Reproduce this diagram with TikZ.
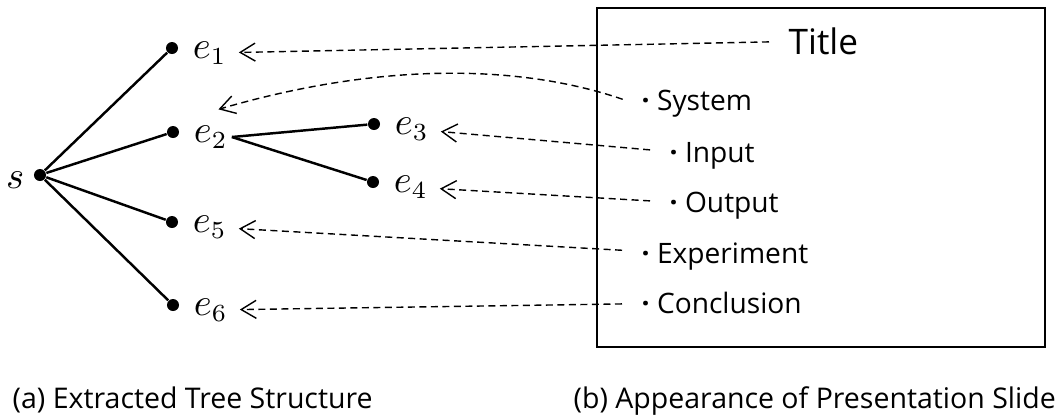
\documentclass[tikz,border=0pt]{standalone}
\usepackage[no-math]{fontspec}
\setmainfont{Open Sans}
\usetikzlibrary{arrows.meta, positioning}
\tikzset{
  vertex/.style={
    circle, fill=black, inner sep=0pt, minimum size=1.2mm
  },
  elabel/.style={
    inner sep=1pt, yshift=-0.5mm, font=\fontsize{10.5}{12}\selectfont
  },
  branch/.style={line width=0.7pt},
  ref/.style={
    -{Straight Barb[length=1.5mm,width=1.8mm]},
    dash pattern=on 0.7mm off 0.45mm, line width=0.4pt,
    shorten <=1.2mm, shorten >=0.8mm
  },
  entry/.style={
    anchor=base west, inner sep=2pt, font=\fontsize{8}{10}\selectfont
  },
  slide/.style={
    draw, line width=0.6pt, inner sep=0pt,
    minimum width=4.48cm, minimum height=3.39cm
  },
  subcap/.style={
    anchor=base west, inner sep=0pt, font=\fontsize{8.1}{10}\selectfont
  }
}
\begin{document}
\begin{tikzpicture}[x=0.01cm, y=-0.01cm]
  \useasboundingbox (0,0) rectangle (1063,417);

  % tree
  \node[vertex] (s) at (40,175) {};
  \node[vertex] (d1) at (172,48) {};
  \node[vertex] (d2) at (173,132) {};
  \node[vertex] (d3) at (374,124) {};
  \node[vertex] (d4) at (373,182) {};
  \node[vertex] (d5) at (172,222) {};
  \node[vertex] (d6) at (173,305) {};

  \node[elabel, left=0.05cm of s] (ls) {$s$};
  \node[elabel, right=0.1cm of d1] (l1) {$e_1$};
  \node[elabel, right=0.1cm of d2] (l2) {$e_2$};
  \node[elabel, right=0.1cm of d3] (l3) {$e_3$};
  \node[elabel, right=0.1cm of d4] (l4) {$e_4$};
  \node[elabel, right=0.1cm of d5] (l5) {$e_5$};
  \node[elabel, right=0.1cm of d6] (l6) {$e_6$};

  \draw[branch] (s) -- (d1);
  \draw[branch] (s) -- (d2);
  \draw[branch] (s) -- (d5);
  \draw[branch] (s) -- (d6);
  \draw[branch] (l2.east) -- (d3);
  \draw[branch] (l2.east) -- (d4);

  % slide
  \node[slide] (box) at (821,177.5) {};
  \node[entry, font=\fontsize{10}{12}\selectfont] (tTitle) at (781,54) {Title};
  \node[entry] (tSys) at (634,110) {{\bfseries·} System};
  \node[entry] (tIn) at (662,162) {{\bfseries·} Input};
  \node[entry] (tOut) at (662,212) {{\bfseries·} Output};
  \node[entry] (tExp) at (634,263) {{\bfseries·} Experiment};
  \node[entry] (tCon) at (634,313) {{\bfseries·} Conclusion};

  % correspondences
  \draw[ref] (tTitle) -- (l1);
  \draw[ref] (tSys.west) .. controls (520,64) and (380,62) .. ([yshift=1mm]l2.north);
  \draw[ref] (tIn) -- (l3);
  \draw[ref] (tOut) -- (l4);
  \draw[ref] (tExp) -- (l5);
  \draw[ref] (tCon) -- (l6);

  % captions
  \node[subcap] (capA) at (12,408) {(a) Extracted Tree Structure};
  \node[subcap] (capB) at (573,408) {(b) Appearance of Presentation Slide};
\end{tikzpicture}
\end{document}
